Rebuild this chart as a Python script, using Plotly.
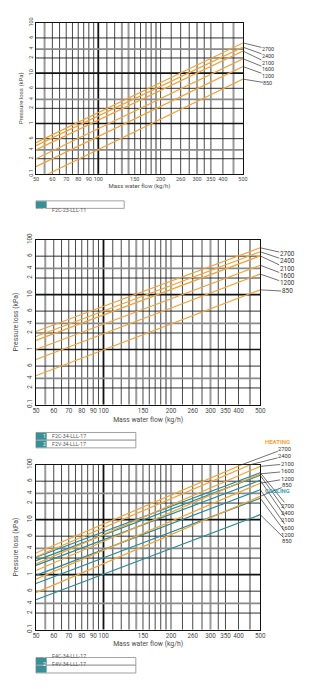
import math
import plotly.graph_objects as go

W, H = 327, 696
FONT = "Roboto"

# ---------------- data ----------------
FLOW = [50, 500]
SPEEDS = ["2700", "2400", "2100", "1600", "1200", "850"]

# Chart 1: F2C-23-LLL-11 (kPa at 50 and 500 kg/h)
C1_2700 = [0.417, 39.8]
C1_2400 = [0.364, 32.8]
C1_2100 = [0.30, 27.4]
C1_1600 = [0.20, 19.3]
C1_1200 = [0.139, 13.5]
C1_850 = [0.076, 7.6]

# Chart 2: F2C-34-LLL-17 / F2V-34-LLL-17
C2_2700 = [2.13, 71.0]
C2_2400 = [1.73, 60.0]
C2_2100 = [1.47, 50.5]
C2_1600 = [1.00, 34.2]
C2_1200 = [0.66, 23.6]
C2_850 = [0.333, 12.2]

# Chart 3: F4C-34-LLL-17 / F4V-34-LLL-17, heating
C3H_2700 = [2.47, 139.0]
C3H_2400 = [2.12, 119.0]
C3H_2100 = [1.57, 93.0]
C3H_1600 = [1.19, 68.0]
C3H_1200 = [0.83, 46.0]
C3H_850 = [0.47, 26.5]
# Chart 3 cooling
C3C_2700 = [2.07, 71.0]
C3C_2400 = [1.80, 64.0]
C3C_2100 = [1.47, 52.0]
C3C_1600 = [0.97, 35.0]
C3C_1200 = [0.69, 24.5]
C3C_850 = [0.35, 12.3]

X_TICKVALS = [50, 60, 70, 80, 90, 100, 150, 200, 250, 300, 350, 400, 500]
X_TICKTEXT = ["50", "60", "70", "80", "90", "100", "150", "200", "260", "300", "350", "400", "500"]
X_BLACK = [60, 65, 70, 75, 80, 85, 90, 95, 110, 120, 150, 160, 170, 180, 200, 225, 250, 275,
           325, 350, 400]
X_GREY = [55, 130, 140, 190, 300, 450]

Y_TICKVALS = [0.1, 0.2, 0.3, 0.5, 1, 2, 3, 5, 10, 20, 30, 50, 100]
Y_TICKTEXT = ["0.1", "2", "4", "6", "1", "2", "4", "6", "10", "2", "4", "6", "100"]
Y_BLACK = [0.2, 0.5, 2, 5, 20, 50]
Y_DECADES = [1, 10]
Y_GREY = [0.3, 3, 30]

ORANGE = "#F2A33A"
TEAL = "#2C8C98"
BOX_TEAL = "#3A8F96"
TXT = "#4a4a4a"

# ---------------- layout geometry (pixels) ----------------
def px(x):
    return x / W

def py(y):
    return 1 - y / H

charts = [
    dict(xd=[33, 246.5], yd=[16, 169.3], fs=5.5, ystand=3, xstand=2),
    dict(xd=[33, 264.3], yd=[236, 403.3], fs=6.3, ystand=7, xstand=3),
    dict(xd=[33, 264.3], yd=[464.3, 631.7], fs=6.3, ystand=7, xstand=2),
]

fig = go.Figure()
layout = dict(
    width=W, height=H, margin=dict(l=0, r=0, t=0, b=0),
    paper_bgcolor="white", plot_bgcolor="white", showlegend=False,
    font=dict(family=FONT, color=TXT),
)

shapes = []
annotations = []


def vline(xa, ya, v, color, width):
    shapes.append(dict(type="line", xref=xa, yref=ya + " domain", x0=v, x1=v, y0=0, y1=1,
                       line=dict(color=color, width=width), layer="below"))


def hline(xa, ya, v, color, width):
    shapes.append(dict(type="line", xref=xa + " domain", yref=ya, x0=0, x1=1, y0=v, y1=v,
                       line=dict(color=color, width=width), layer="below"))


for i, c in enumerate(charts):
    n = "" if i == 0 else str(i + 1)
    xa = "x" + n
    ya = "y" + n
    layout["xaxis" + n] = dict(
        type="log", range=[math.log10(50), math.log10(500)],
        domain=[px(c["xd"][0]), px(c["xd"][1])], anchor=ya,
        tickmode="array", tickvals=X_TICKVALS, ticktext=X_TICKTEXT, tickangle=0,
        tickfont=dict(size=c["fs"], color=TXT, family=FONT), ticks="",
        showgrid=False,
        showline=True, linecolor="#111", linewidth=1, mirror=True, zeroline=False,
        title=dict(text="Mass water flow (kg/h)", font=dict(size=c["fs"] + 0.5, color=TXT),
                   standoff=c["xstand"]),
        fixedrange=True,
    )
    layout["yaxis" + n] = dict(
        type="log", range=[-1, 2],
        domain=[py(c["yd"][1]), py(c["yd"][0])], anchor=xa,
        tickmode="array", tickvals=Y_TICKVALS, ticktext=Y_TICKTEXT, tickangle=-90,
        tickfont=dict(size=c["fs"], color=TXT, family=FONT), ticks="",
        showgrid=False,
        showline=True, linecolor="#111", linewidth=1, mirror=True, zeroline=False,
        title=dict(text="Pressure loss (kPa)", font=dict(size=c["fs"] + 0.5, color=TXT),
                   standoff=c["ystand"]),
        fixedrange=True,
    )
    for v in X_GREY:
        vline(xa, ya, v, "#9a9a9a", 2)
    for v in X_BLACK:
        vline(xa, ya, v, "#1a1a1a", 0.8)
    vline(xa, ya, 100, "#111", 1.8)
    for v in Y_GREY:
        hline(xa, ya, v, "#8a8a8a", 1.8)
    for v in Y_BLACK:
        hline(xa, ya, v, "#1a1a1a", 0.9)
    for v in Y_DECADES:
        hline(xa, ya, v, "#111", 1.6)


def add_series(values_list, color, xa, ya):
    for vals in values_list:
        fig.add_trace(go.Scatter(x=FLOW, y=vals, mode="lines", xaxis=xa, yaxis=ya,
                                 line=dict(color=color, width=1.2), hoverinfo="skip"))


def end_point(vals):
    """Point where a series leaves the plot (right edge or top edge), in log10 units."""
    l0, l1 = math.log10(vals[0]), math.log10(vals[1])
    lx0, lx1 = math.log10(FLOW[0]), math.log10(FLOW[1])
    if l1 <= 2:
        return lx1, l1
    t = (2 - l0) / (l1 - l0)
    return lx0 + t * (lx1 - lx0), 2.0


def add_labels(values_list, xa, ya, offsets, fs):
    for name, vals, (ax, ay) in zip(SPEEDS, values_list, offsets):
        ex, ey = end_point(vals)
        annotations.append(dict(
            x=ex, y=ey, xref=xa, yref=ya, text=name, showarrow=True,
            arrowhead=0, arrowwidth=0.7, arrowcolor="#333", ax=ax, ay=ay,
            axref="pixel", ayref="pixel", standoff=0, borderpad=0,
            font=dict(size=fs, color="#333", family=FONT)))


C1 = [C1_2700, C1_2400, C1_2100, C1_1600, C1_1200, C1_850]
C2 = [C2_2700, C2_2400, C2_2100, C2_1600, C2_1200, C2_850]
C3H = [C3H_2700, C3H_2400, C3H_2100, C3H_1600, C3H_1200, C3H_850]
C3C = [C3C_2700, C3C_2400, C3C_2100, C3C_1600, C3C_1200, C3C_850]

add_series(C1, ORANGE, "x", "y")
add_series(C2, ORANGE, "x2", "y2")
add_series(C3C, TEAL, "x3", "y3")
add_series(C3H, ORANGE, "x3", "y3")

add_labels(C1, "x", "y", [(25, 6), (25, 9), (25, 12), (25, 10), (25, 9), (25, 4)], 5.4)
add_labels(C2, "x2", "y2", [(27, 6), (27, 9), (27, 12.7), (27, 10.3), (27, 9.3), (27, 1.5)], 6.4)
add_labels(C3H, "x3", "y3", [(43, -16), (34, -8.5), (27, -2.5), (27, -2.5), (27, -4.5), (27, -11)], 5.8)
add_labels(C3C, "x3", "y3", [(27, 33), (27, 37.5), (27, 39.5), (27, 38), (27, 36.5), (27, 26.5)], 5.8)

annotations.append(dict(x=px(297), y=py(441), xref="paper", yref="paper", text="<b>HEATING</b>",
                        showarrow=False, font=dict(size=6, color=ORANGE, family=FONT)))
annotations.append(dict(x=px(297), y=py(496.5), xref="paper", yref="paper", text="<b>COOLING</b>",
                        showarrow=False, font=dict(size=5.8, color="#3AA3B3", family=FONT)))

# ---------------- model boxes ----------------
def model_box(x0, x1, rows):
    for (y0, y1, num, label) in rows:
        shapes.append(dict(type="rect", xref="paper", yref="paper", x0=px(x0), x1=px(x1),
                           y0=py(y1), y1=py(y0), line=dict(color="#8a8a8a", width=0.8),
                           fillcolor="white"))
        shapes.append(dict(type="rect", xref="paper", yref="paper", x0=px(x0), x1=px(x0 + 11),
                           y0=py(y1 - 0.4), y1=py(y0 + 0.4), line=dict(width=0),
                           fillcolor=BOX_TEAL))
        annotations.append(dict(x=px(x0 + 5.5), y=py((y0 + y1) / 2), xref="paper", yref="paper",
                                text=num, showarrow=False,
                                font=dict(size=5, color="white", family=FONT)))
        annotations.append(dict(x=px(x0 + 14), y=py((y0 + y1) / 2), xref="paper", yref="paper",
                                text=label, showarrow=False, xanchor="left",
                                font=dict(size=5.3, color="#555", family=FONT)))


model_box(33, 124, [(196.7, 204.3, "1", "F2C-23-LLL-11")])
model_box(33, 136, [(431.7, 439.5, "1", "F2C-34-LLL-17"), (439.5, 447.3, "2", "F2V-34-LLL-17")])
model_box(33, 136, [(660, 667.8, "1", "F4C-34-LLL-17"), (667.8, 675.7, "2", "F4V-34-LLL-17")])

layout["shapes"] = shapes
layout["annotations"] = annotations
fig.update_layout(**layout)
fig.write_html("out.html")
